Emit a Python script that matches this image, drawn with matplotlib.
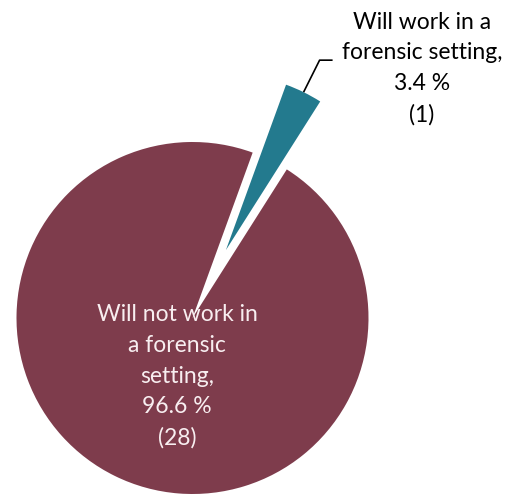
import numpy as np
import matplotlib
matplotlib.use("Agg")
import matplotlib.pyplot as plt

# Survey responses
categories = ["Will work in a\nforensic setting,", "Will not work in\na forensic\nsetting,"]
counts = [1, 28]
colors = ["#237A8E", "#7E3C4C"]
explode_frac = [0.43, 0.0]

W, H = 507, 495
fig = plt.figure(figsize=(W / 100, H / 100), dpi=100)
ax = fig.add_axes([0, 0, 1, 1])

total = sum(counts)
pcts = [100 * c / total for c in counts]

radius = 176
# matplotlib's explode is in data units, so scale the fractions by the radius
explode = [f * radius for f in explode_frac]
wedges, _ = ax.pie(counts, colors=colors, explode=explode, startangle=57.6,
                   counterclock=True, center=(192.5, 177), radius=radius,
                   wedgeprops=dict(linewidth=0))
ax.set_xlim(0, W)
ax.set_ylim(0, H)
ax.set_aspect("equal")
ax.axis("off")

font = "Lato"
fs = 16.5
ls = 1.57

# label for the small exploded slice, with leader line
small = wedges[0]
mid = np.deg2rad((small.theta1 + small.theta2) / 2)
cx, cy = small.center
x0 = cx + small.r * np.cos(mid)
y0 = cy + small.r * np.sin(mid)
elbow = (x0 + 16, y0 + 32)
ax.plot([x0, elbow[0], elbow[0] + 13], [y0, elbow[1], elbow[1]],
        color="black", lw=1.2, solid_capstyle="butt")
ax.text(422, 426.5, f"{categories[0]}\n{pcts[0]:.1f} %\n({counts[0]})",
        ha="center", va="center", fontsize=fs, family=font, color="black",
        linespacing=ls)

# label inside the main slice
ax.text(177, 118.5, f"{categories[1]}\n{pcts[1]:.1f} %\n({counts[1]})",
        ha="center", va="center", fontsize=fs, family=font, color="#F8EEF0",
        linespacing=ls)

fig.savefig("out.png", dpi=100)
